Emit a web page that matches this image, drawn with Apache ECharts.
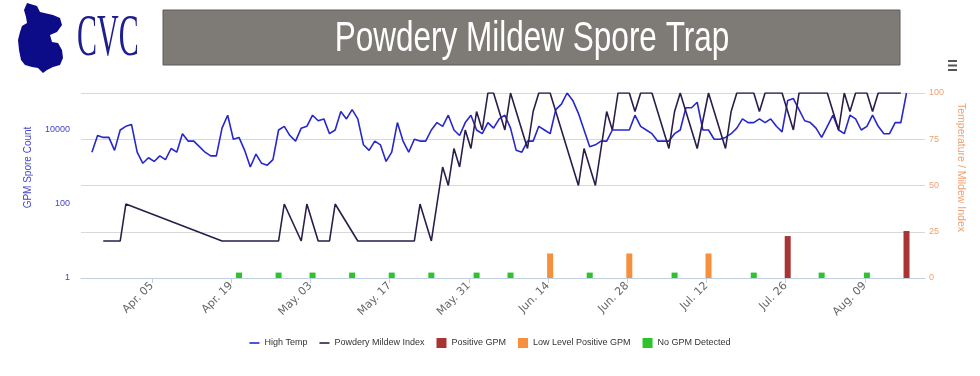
<!DOCTYPE html>
<html>
<head>
<meta charset="utf-8">
<title>Powdery Mildew Spore Trap</title>
<script src="https://cdn.jsdelivr.net/npm/echarts@6/dist/echarts.min.js"></script>
<style>
html,body{margin:0;padding:0;background:#fff}
#main{width:980px;height:376px}
</style>
</head>
<body>
<div id="main"></div>
<script>
var YEAR = 2017;

// x axis tick dates (MM-DD)
var tickDates = ['04-05','04-19','05-03','05-17','05-31','06-14','06-28','07-12','07-26','08-09'];

// daily high temperature (F), one value per day from tempStart
var tempStart = '03-25';
var highTemp = [
  68, 77, 76, 76, 69, 80, 82, 83, 68, 62,
  65, 63, 66, 64, 70, 68, 78, 74, 74, 71,
  68, 66, 66, 81, 88, 75, 76, 69, 60, 67,
  62, 61, 64, 80, 82, 77, 74, 81, 82, 88,
  85, 86, 78, 80, 90, 86, 91, 86, 72, 69,
  74, 72, 63, 68, 84, 74, 68, 75, 74, 74,
  80, 84, 82, 88, 80, 77, 84, 88, 80, 78,
  84, 81, 86, 88, 81, 69, 68, 74, 74, 82,
  80, 78, 91, 94, 100, 96, 89, 80, 71, 72,
  74, 74, 80, 80, 80, 80, 88, 82, 80, 78,
  74, 74, 74, 78, 80, 92, 92, 95, 80, 80,
  75, 75, 76, 78, 81, 86, 84, 84, 86, 84,
  86, 82, 79, 96, 97, 91, 85, 84, 81, 76,
  82, 88, 80, 78, 88, 86, 80, 82, 88, 82,
  78, 78, 84, 84, 100
];

// powdery mildew index
var mildewDates = [
  '03-27','03-30','03-31','04-17','04-27','04-28','05-01','05-02','05-04','05-06',
  '05-07','05-11','05-21','05-22','05-24','05-26','05-27','05-28','05-29','05-30',
  '05-31','06-01','06-02','06-03','06-04','06-06','06-07','06-10','06-11','06-12',
  '06-14','06-19','06-20','06-22','06-24','06-25','06-26','06-28','06-29','06-30',
  '07-02','07-05','07-06','07-07','07-10','07-12','07-15','07-16','07-17','07-20',
  '07-21','07-22','07-25','07-27','07-28','08-02','08-04','08-05','08-06','08-07',
  '08-09','08-10','08-11','08-15'
];
var mildewIndex = [
  20, 20, 40, 20, 20, 40, 20, 40, 20, 20,
  40, 20, 20, 40, 20, 60, 50, 70, 60, 80,
  70, 90, 80, 100, 100, 80, 100, 70, 90, 100,
  100, 50, 70, 50, 90, 80, 100, 100, 90, 100,
  100, 70, 90, 100, 70, 100, 70, 90, 100, 100,
  90, 100, 100, 80, 100, 100, 80, 100, 90, 100,
  100, 90, 100, 100
];

// GPM spore trap results
var positiveDates = ['07-26','08-16'];
var positiveCounts = [13.6, 18.6];
var lowDates = ['06-14','06-28','07-12'];
var lowCounts = [4.6, 4.6, 4.6];
var noneDates = ['04-20','04-27','05-03','05-10','05-17','05-24','06-01','06-07','06-21','07-06','07-20','08-01','08-09'];
var noneCounts = [1.4, 1.4, 1.4, 1.4, 1.4, 1.4, 1.4, 1.4, 1.4, 1.4, 1.4, 1.4, 1.4];

var MONTHS = ['Jan','Feb','Mar','Apr','May','Jun','Jul','Aug','Sep','Oct','Nov','Dec'];
var OBS = 0.38; // readings are logged in the morning

function dayNum(md) {
  var p = md.split('-');
  return (Date.UTC(YEAR, +p[0] - 1, +p[1]) - Date.UTC(YEAR, 0, 0)) / 864e5;
}
function dayLabel(v) {
  var d = new Date(Date.UTC(YEAR, 0, Math.round(v)));
  var dd = d.getUTCDate();
  return MONTHS[d.getUTCMonth()] + '. ' + (dd < 10 ? '0' + dd : dd);
}
function pairs(dates, vals) {
  return dates.map(function (d, i) { return [dayNum(d) + OBS, vals[i]]; });
}

var t0 = dayNum(tempStart);
var tempData = highTemp.map(function (v, i) { return [t0 + i + OBS, v]; });
var tickDays = tickDates.map(dayNum);

var blue = '#2727cc';
var dark = '#2b1d4a';
var orangeTxt = '#f0a070';
var axisBlue = '#4444cc';

var myChart = echarts.init(document.getElementById('main'));
var option = {
  animation: false,
  textStyle: { fontFamily: 'Liberation Sans' },
  graphic: [
    // logo
    {
      type: 'polygon',
      shape: { points: [[27,3],[37,6],[40,12],[53,15],[60,18],[62,25],[57,32],[50,35],[52,42],[58,43],[62,50],[63,58],[60,65],[53,67],[47,70],[43,73],[38,68],[32,67],[25,65],[21,60],[19,50],[18,40],[20,32],[22,26],[27,23],[26,17],[24,10]] },
      style: { fill: '#0c0c88' }
    },
    {
      type: 'text', x: 77, y: 39, scaleX: 0.5,
      style: { text: 'CVC', font: '60px "Liberation Serif"', fill: '#1e1e8e', textAlign: 'left', textVerticalAlign: 'middle' }
    },
    // title bar
    {
      type: 'rect',
      shape: { x: 163, y: 10, width: 737, height: 55 },
      style: { fill: '#7e7a76', stroke: '#5e5a56', lineWidth: 1 }
    },
    {
      type: 'text', x: 532, y: 39, scaleX: 0.75,
      style: { text: 'Powdery Mildew Spore Trap', font: '42px "Liberation Sans"', fill: '#ffffff', textAlign: 'center', textVerticalAlign: 'middle' }
    },
    // menu icon
    { type: 'rect', shape: { x: 948, y: 60, width: 9, height: 2 }, style: { fill: '#555' } },
    { type: 'rect', shape: { x: 948, y: 64.5, width: 9, height: 2 }, style: { fill: '#555' } },
    { type: 'rect', shape: { x: 948, y: 69, width: 9, height: 2 }, style: { fill: '#555' } }
  ],
  legend: {
    left: 'center',
    top: 338,
    padding: 0,
    itemGap: 12,
    itemWidth: 10,
    itemHeight: 10,
    textStyle: { fontSize: 9, color: '#333', fontFamily: 'Liberation Sans' },
    data: [
      { name: 'High Temp', icon: 'path://M0,0H10V1.6H0Z' },
      { name: 'Powdery Mildew Index', icon: 'path://M0,0H10V1.6H0Z' },
      { name: 'Positive GPM', icon: 'rect' },
      { name: 'Low Level Positive GPM', icon: 'rect' },
      { name: 'No GPM Detected', icon: 'rect' }
    ]
  },
  grid: { left: 81, right: 55, top: 93, bottom: 98 },
  xAxis: {
    type: 'value',
    min: 82.45,
    max: 231.65,
    splitLine: { show: false },
    axisLine: { lineStyle: { color: '#c0d0e0' } },
    axisTick: { length: 5, lineStyle: { color: '#c0d0e0' }, customValues: tickDays },
    axisLabel: {
      customValues: tickDays,
      formatter: dayLabel,
      rotate: 45,
      margin: 6,
      color: '#666',
      fontSize: 11,
      fontFamily: 'DejaVu Sans'
    }
  },
  yAxis: [
    {
      type: 'log',
      logBase: 10,
      min: 1,
      max: 100000,
      name: 'GPM Spore Count',
      nameLocation: 'middle',
      nameGap: 48,
      nameRotate: 90,
      nameTextStyle: { color: axisBlue, fontSize: 10, padding: [0, 0, 0, 36] },
      axisLine: { show: false },
      axisTick: { show: false },
      splitLine: { show: false },
      axisLabel: {
        margin: 11,
        color: axisBlue,
        fontSize: 9,
        formatter: function (v) {
          var e = Math.round(Math.log(v) / Math.LN10);
          return (e % 2 === 0 && e < 5) ? String(Math.pow(10, e)) : '';
        }
      }
    },
    {
      type: 'value',
      min: 0,
      max: 100,
      interval: 25,
      position: 'right',
      name: 'Temperature / Mildew Index',
      nameLocation: 'middle',
      nameGap: 21,
      nameRotate: -90,
      nameTextStyle: { color: orangeTxt, fontSize: 10.5, padding: [0, 36, 0, 0] },
      axisLine: { show: false },
      axisTick: { show: false },
      splitLine: { lineStyle: { color: '#d8d8d8', width: 1 } },
      axisLabel: { margin: 4, color: orangeTxt, fontSize: 9 }
    }
  ],
  series: [
    {
      name: 'High Temp', type: 'line', yAxisIndex: 1,
      data: tempData, symbol: 'none', color: blue,
      lineStyle: { width: 1.6, color: blue }
    },
    {
      name: 'Powdery Mildew Index', type: 'line', yAxisIndex: 1,
      data: pairs(mildewDates, mildewIndex), symbol: 'none', color: dark,
      lineStyle: { width: 1.6, color: dark }
    },
    {
      name: 'Positive GPM', type: 'bar', yAxisIndex: 0,
      data: pairs(positiveDates, positiveCounts),
      barWidth: 6, barGap: '-100%', color: '#a83434'
    },
    {
      name: 'Low Level Positive GPM', type: 'bar', yAxisIndex: 0,
      data: pairs(lowDates, lowCounts),
      barWidth: 6, barGap: '-100%', color: '#f78f3c'
    },
    {
      name: 'No GPM Detected', type: 'bar', yAxisIndex: 0,
      data: pairs(noneDates, noneCounts),
      barWidth: 6, barGap: '-100%', color: '#2ec22e'
    }
  ]
};
myChart.setOption(option);
</script>
</body>
</html>
